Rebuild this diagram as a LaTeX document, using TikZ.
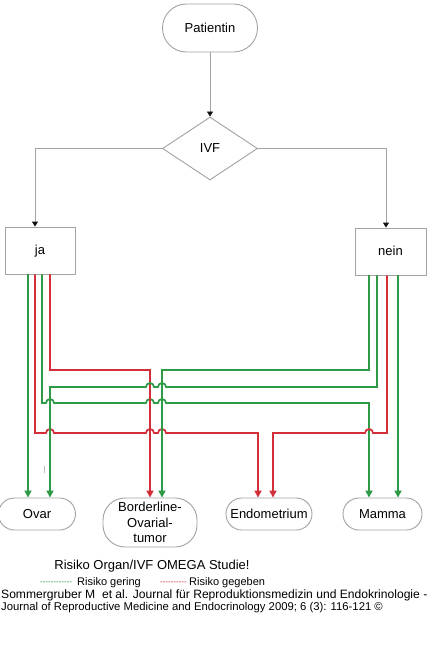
\documentclass[tikz,border=0pt]{standalone}
\usepackage{fontspec}
\setmainfont{Liberation Sans}
\usetikzlibrary{arrows.meta,positioning,calc,shapes.geometric}
\definecolor{RiskGreen}{HTML}{2F9A46}
\definecolor{RiskRed}{HTML}{D22F3B}
\definecolor{FrameGray}{HTML}{A2A2A2}
\definecolor{Ink}{HTML}{111111}

\begin{document}
\begin{tikzpicture}[x=1pt,y=-1pt,>=Triangle,
  termbox/.style={draw=FrameGray,line width=.9pt,rounded corners=15.9pt,
    minimum height=32pt,inner sep=0pt,font=\fontsize{13}{15.5}\selectfont},
  choicebox/.style={draw=FrameGray,line width=.9pt,minimum width=70pt,
    minimum height=47pt,inner sep=0pt,text height=9.4pt,text depth=0.8pt,
    font=\fontsize{13}{15}\selectfont},
  flowline/.style={FrameGray,line width=.9pt,-{Triangle[length=5pt,width=6pt,Ink]}},
  riskg/.style={RiskGreen,line width=1.7pt,-{Triangle[length=7pt,width=7pt]}},
  riskr/.style={RiskRed,line width=1.7pt,-{Triangle[length=7pt,width=7pt]}},
  legendtxt/.style={anchor=west,inner sep=0pt,font=\fontsize{11}{13}\selectfont},
  dashtxt/.style={anchor=west,inner sep=0pt,font=\fontsize{8}{10}\selectfont}]
  % Fondo y márgenes de la figura.
  \fill[white] (0,0) rectangle (431,661);
  \useasboundingbox (0,0) rectangle (431,661);

  % Cabecera: paciente y decisión.
  \node[termbox,minimum width=95pt,minimum height=48pt,rounded corners=23.9pt]
    (pat) at (210,28) {Patientin};
  \node[diamond,draw=FrameGray,line width=.9pt,minimum width=95pt,minimum height=63pt,
    aspect=1.5,inner sep=0pt,font=\fontsize{13}{15}\selectfont] (ivf) at (210,148.5) {IVF};
  \node[choicebox] (ja) at (40,250.5) {ja};
  \node[choicebox,minimum width=71pt] (nein) at (390.5,251.5) {nein};

  \draw[flowline] (pat) -- (ivf);
  \draw[flowline] (ivf.west) -| (35,0 |- ja.north);
  \draw[flowline] (ivf.east) -| (386,0 |- nein.north);

  % Órganos de destino.
  \node[termbox,minimum width=77pt] (ovar) at (37,514) {Ovar};
  \node[termbox,minimum width=94pt,minimum height=49pt,rounded corners=22pt,align=center]
    (border) at (150,522.5) {Borderline-\\Ovarial-\\tumor};
  \node[termbox,minimum width=86pt] (endo) at (269,514) {Endometrium};
  \node[termbox,minimum width=79pt] (mamma) at (382.5,514) {Mamma};

  % Líneas de riesgo desde "ja"; los saltos marcan los cruces.
  \draw[riskg] (28,0 |- ja.south) -- (28,0 |- ovar.north);
  \draw[riskr] (35,0 |- ja.south) -- (35,433) -- (46,433)
    arc[start angle=180,end angle=360,radius=4] -- (146,433)
    arc[start angle=180,end angle=360,radius=4] -- (158,433)
    arc[start angle=180,end angle=360,radius=4] -- (258,433) -- (258,0 |- endo.north);
  \draw[riskg] (42,0 |- ja.south) -- (42,403) -- (46,403)
    arc[start angle=180,end angle=360,radius=4] -- (146,403)
    arc[start angle=180,end angle=360,radius=4] -- (158,403)
    arc[start angle=180,end angle=360,radius=4] -- (369,403) -- (369,0 |- mamma.north);
  \draw[riskr] (50,0 |- ja.south) -- (50,370) -- (150,370) -- (150,0 |- border.north);

  % Líneas de riesgo desde "nein".
  \draw[riskg] (369,0 |- nein.south) -- (369,370) -- (162,370) -- (162,0 |- border.north);
  \draw[riskg] (377,0 |- nein.south) -- (377,387) -- (166,387)
    arc[start angle=0,end angle=-180,radius=4] -- (154,387)
    arc[start angle=0,end angle=-180,radius=4] -- (50,387) -- (50,0 |- ovar.north);
  \draw[riskr] (387,0 |- nein.south) -- (387,433) -- (373,433)
    arc[start angle=0,end angle=-180,radius=4] -- (273,433) -- (273,0 |- endo.north);
  \draw[riskg] (398,0 |- nein.south) -- (398,0 |- mamma.north);
  \draw[FrameGray!70,line width=.5pt] (44,466) -- (44,473);

  % Leyenda y referencia.
  \node[font=\fontsize{13}{15}\selectfont] (title) at (152,566) {Risiko Organ/IVF OMEGA Studie!};
  \node[dashtxt,RiskGreen] (gdash) at (40,583) {-{}-{}-{}-{}-{}-{}-{}-{}-{}-{}-{}-};
  \node[legendtxt] (glabel) at (77,583) {Risiko gering};
  \node[dashtxt,RiskRed] (rdash) at (160,583) {-{}-{}-{}-{}-{}-{}-{}-{}-{}-};
  \node[legendtxt] (rlabel) at (189,583) {Risiko gegeben};
  \node[anchor=west,inner sep=0pt,font=\fontsize{12.1}{14}\selectfont]
    (cite) at (1,595) {Sommergruber M\ \ et al. Journal für Reproduktionsmedizin und Endokrinologie -};
  \node[anchor=west,inner sep=0pt,font=\fontsize{11.3}{14}\selectfont]
    (journal) at (1,608) {Journal of Reproductive Medicine and Endocrinology 2009; 6 (3): 116-121 ©};
\end{tikzpicture}
\end{document}
